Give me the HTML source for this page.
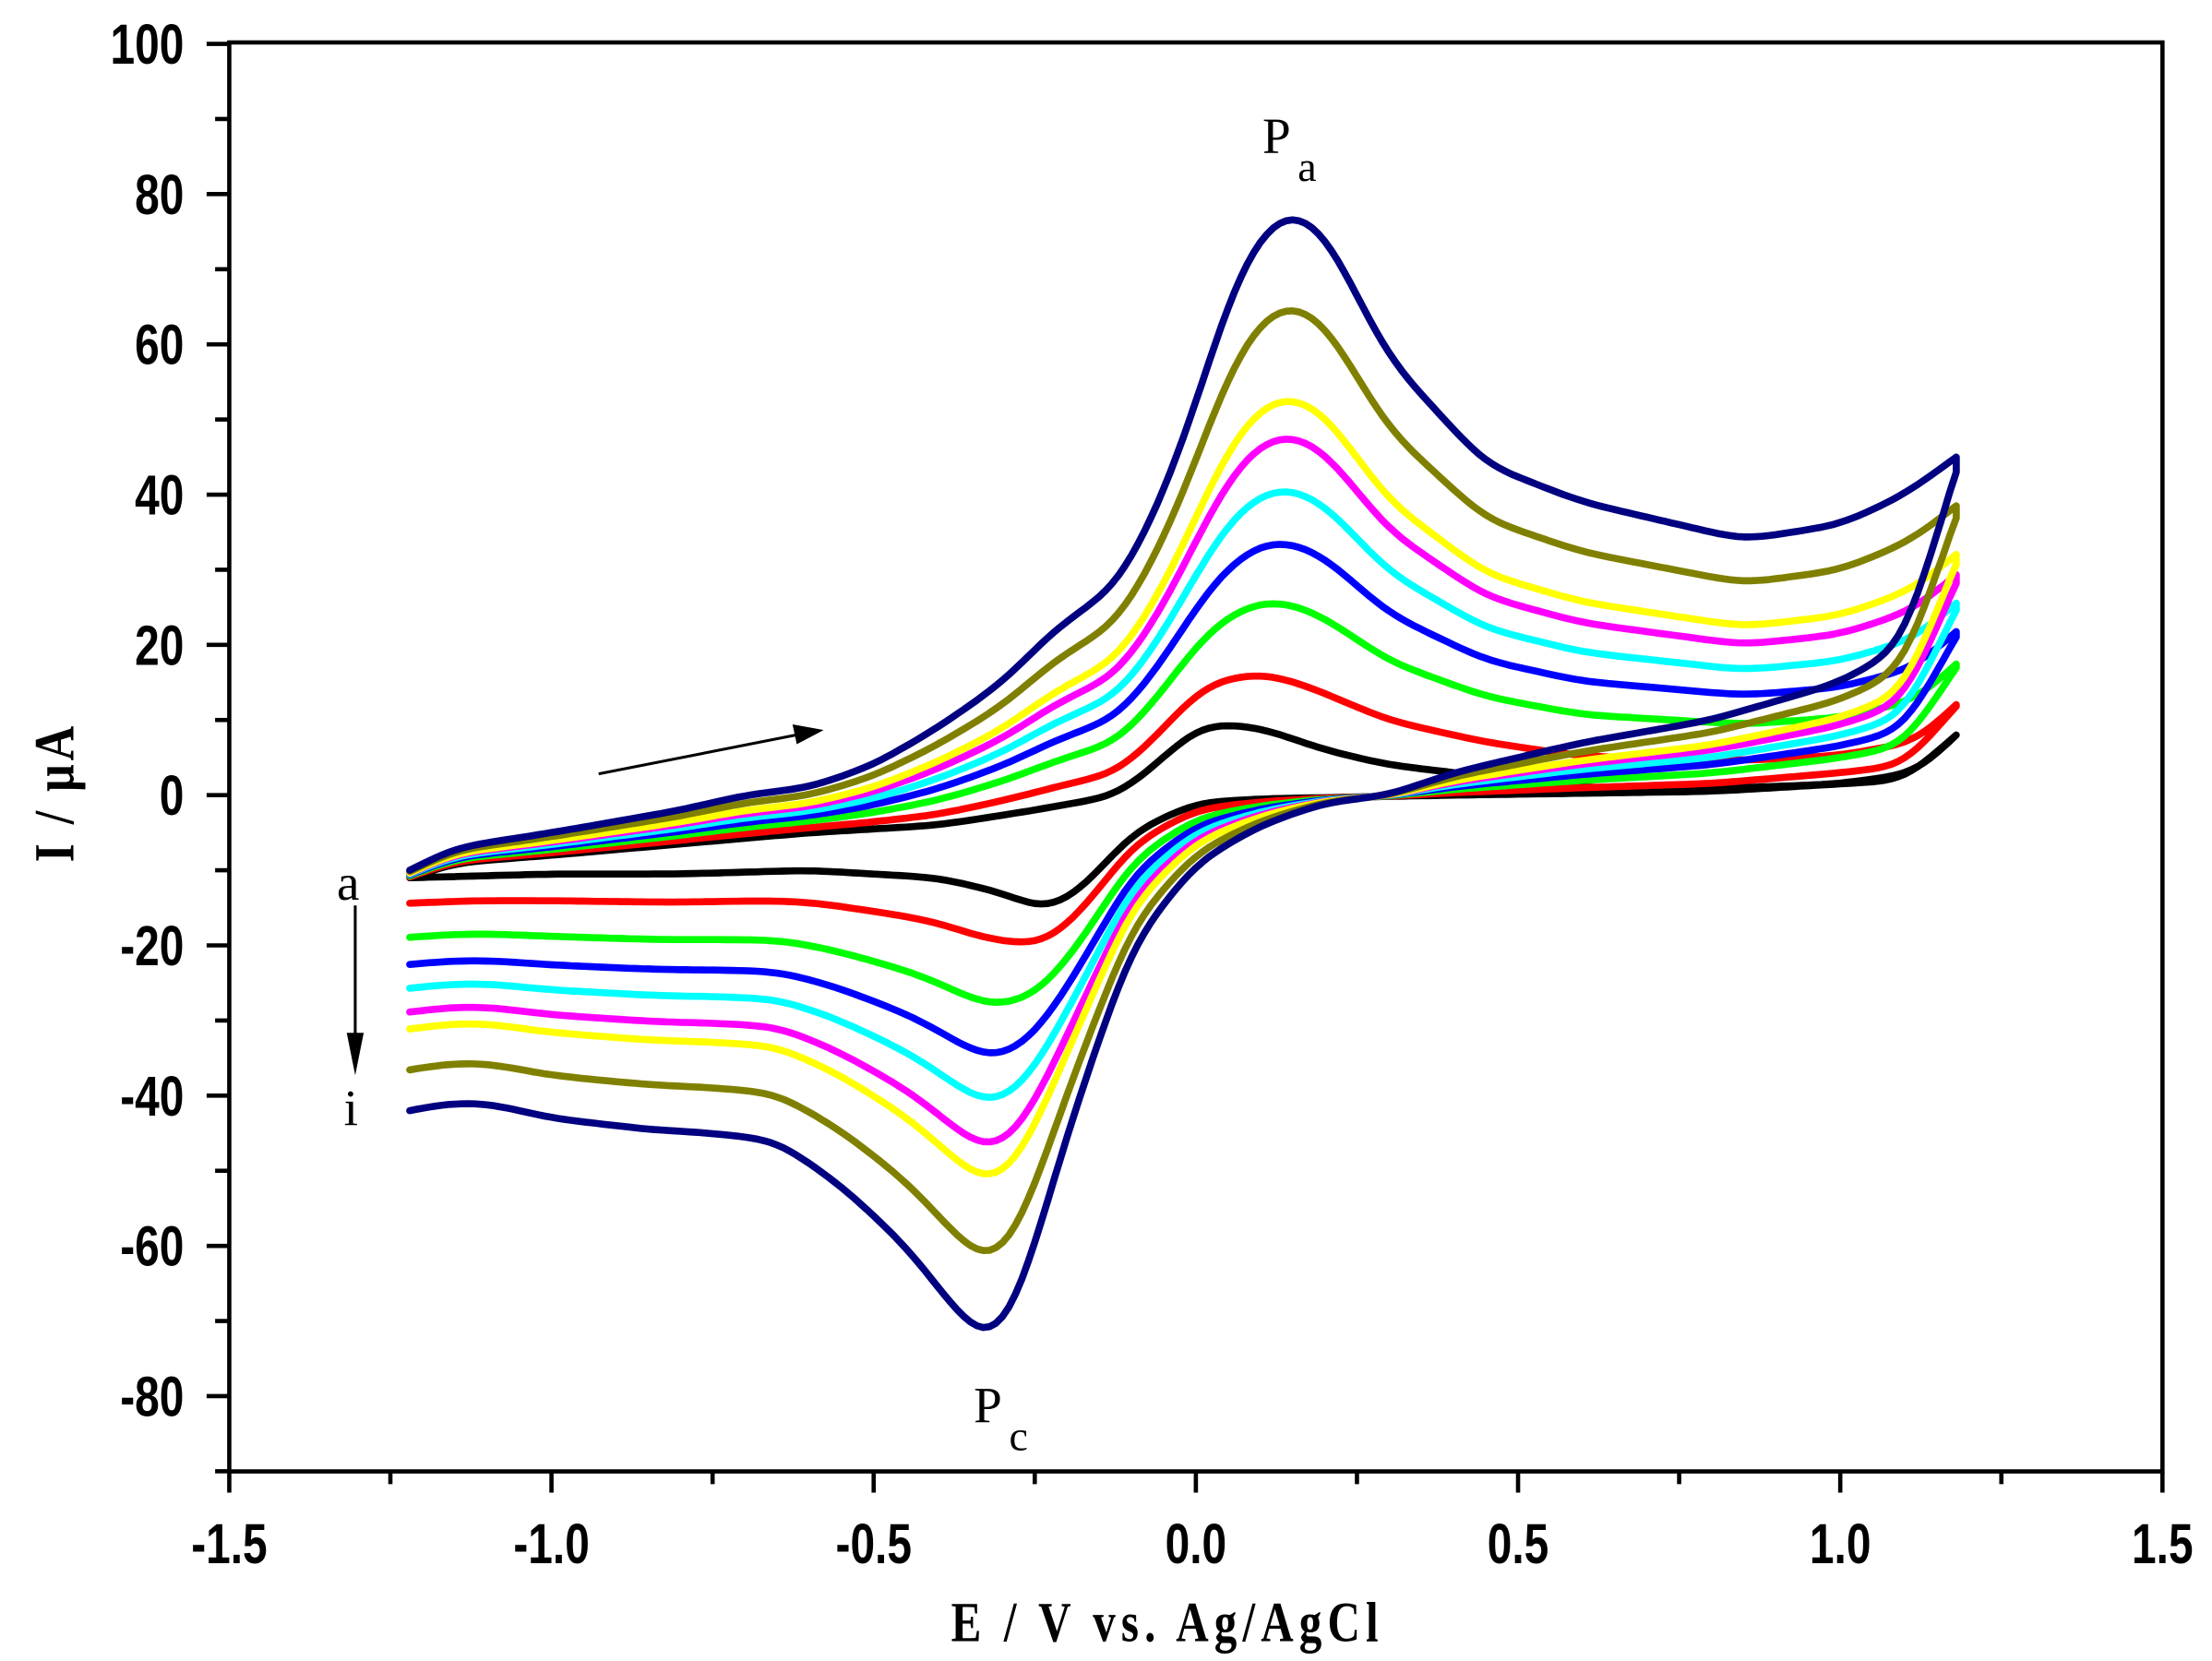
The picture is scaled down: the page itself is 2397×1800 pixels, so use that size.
<!DOCTYPE html>
<html><head><meta charset="utf-8"><style>html,body{margin:0;padding:0;background:#fff}svg{display:block}</style></head>
<body>
<svg id="s" width="2397" height="1800" viewBox="0 0 1563 1174" preserveAspectRatio="none" xmlns="http://www.w3.org/2000/svg">
<rect width="1563" height="1174" fill="#fff"/>
<g id="curves" fill="none" stroke-width="5" stroke-linejoin="round" stroke-linecap="round"></g>
<rect x="162" y="30" width="1366" height="1010" fill="none" stroke="#000" stroke-width="3"/>
<g id="ticks" stroke="#000" stroke-width="3"></g>
<g id="labels" font-family="Liberation Sans, sans-serif" font-weight="bold" font-size="40" fill="#000"></g>
<text transform="translate(825,1160) scale(0.8,1)" text-anchor="middle" font-family="Liberation Serif, serif" font-weight="bold" font-size="40" letter-spacing="5">E / V vs. Ag/AgCl</text>
<text transform="translate(52,560) rotate(-90) scale(0.85,1)" text-anchor="middle" font-family="Liberation Serif, serif" font-weight="bold" font-size="40" letter-spacing="3">I / μA</text>
<line x1="423" y1="547" x2="565" y2="519" stroke="#000" stroke-width="2"/>
<polygon points="582,516 560,512 563,526" fill="#000"/>
<line x1="251" y1="640" x2="251" y2="740" stroke="#000" stroke-width="2"/>
<polygon points="251,760 245,730 257,730" fill="#000"/>
<g font-family="Liberation Serif, serif" font-size="36" fill="#000">
<text x="238" y="636">a</text><text x="243" y="795">i</text>
<text x="892" y="108">P</text><text x="917" y="128" font-size="30">a</text>
<text x="688" y="1005">P</text><text x="713" y="1025" font-size="30">c</text>
</g>
</svg>
<script>
const X=e=>845+e*455.33, Y=i=>562-i*5.31;
const t=document.getElementById('ticks'),l=document.getElementById('labels');
let h='',lb='';
for(let k=0;k<=12;k++){const e=-1.5+k*0.25,x=X(e),maj=k%2==0;h+=`<line x1="${x}" y1="1040" x2="${x}" y2="${maj?1055:1049}"/>`;
if(maj)lb+=`<text transform="translate(${x},1105) scale(0.78,1)" text-anchor="middle">${e.toFixed(1)}</text>`;}
for(let v=-90;v<=100;v+=10){const y=Y(v),maj=v%20==0;h+=`<line x1="162" y1="${y}" x2="${maj?146:152}" y2="${y}"/>`;
if(maj)lb+=`<text transform="translate(130,${y+14}) scale(0.78,1)" text-anchor="end">${v}</text>`;}
t.innerHTML=h;l.innerHTML=lb;
function interp(p,e){for(let j=0;j<p.length-1;j++){const a=p[j],b=p[j+1];const lo=Math.min(a[0],b[0])-1e-9,hi=Math.max(a[0],b[0])+1e-9;if(e>=lo&&e<=hi){const f=(e-a[0])/(b[0]-a[0]);return a[1]+f*(b[1]-a[1]);}}
const first=p[0],last=p[p.length-1];return Math.abs(e-first[0])<Math.abs(e-last[0])?first[1]:last[1];}
const fI=[[-1.22,-10],[-1.15,-7],[-1.0,-5],[-0.8,-2],[-0.7,0],[-0.6,1],[-0.5,4],[-0.4,9],[-0.3,15],[-0.22,22],[-0.12,28],[-0.05,40],[0,52],[0.05,66],[0.1,75],[0.15,78],[0.2,75],[0.3,58],[0.45,44],[0.6,39],[0.85,34],[1.0,36],[1.1,40],[1.18,45]];
const fA=[[-1.22,-11],[-1.15,-9],[-1.0,-8],[-0.6,-5],[-0.4,-4],[-0.25,-2],[-0.12,0],[-0.05,5],[0,9],[0.03,9.5],[0.1,9],[0.2,6],[0.3,4],[0.6,1],[0.85,1],[1.0,1.5],[1.12,3],[1.18,8]];
const rI=[[1.18,43],[1.15,35],[1.1,20],[1.0,15],[0.8,10],[0.6,7],[0.4,3],[0.3,0],[0.2,-1],[0.1,-4],[0,-9],[-0.1,-20],[-0.2,-45],[-0.27,-66],[-0.31,-73],[-0.35,-71],[-0.45,-60],[-0.55,-52],[-0.65,-46],[-0.75,-45],[-0.85,-44.5],[-1.0,-43],[-1.1,-41],[-1.16,-41],[-1.22,-42]];
const rA=[[1.18,8],[1.1,2],[0.8,0.5],[0.4,0],[0.1,-0.5],[0,-1],[-0.1,-5],[-0.17,-12],[-0.23,-15.5],[-0.3,-13],[-0.4,-11],[-0.6,-10],[-0.8,-10.5],[-1.0,-10.5],[-1.22,-11]];
const cols=['#000','#f00','#0f0','#00f','#0ff','#f0f','#ff0','#808000','#000080'];
const pk=[9.5,17,27,35,42,49,54,66,78];
function smooth(a){for(let pass=0;pass<4;pass++){const b=a.slice();for(let i=2;i<a.length-2;i++)b[i]=(a[i-2]+a[i-1]+a[i]+a[i+1]+a[i+2])/5;a=b;}return a;}
let g='';
pk.forEach((p,k)=>{const s=(p-9.5)/68.5;
let E=[],F=[],R=[];
for(let n=0;n<=240;n++){const e=-1.22+n*0.01;E.push(e);F.push((1-s)*interp(fA,e)+s*interp(fI,e));R.push((1-s)*interp(rA,e)+s*interp(rI,e));}
F=smooth(F);R=smooth(R);
let d='';
for(let n=0;n<=240;n++)d+=(n?'L':'M')+X(E[n]).toFixed(1)+','+Y(F[n]).toFixed(1);
for(let n=240;n>=0;n--)d+='L'+X(E[n]).toFixed(1)+','+Y(R[n]).toFixed(1);
g+=`<path d="${d}" stroke="${cols[k]}"/>`;});
document.getElementById('curves').innerHTML=g;
</script>
</body></html>
